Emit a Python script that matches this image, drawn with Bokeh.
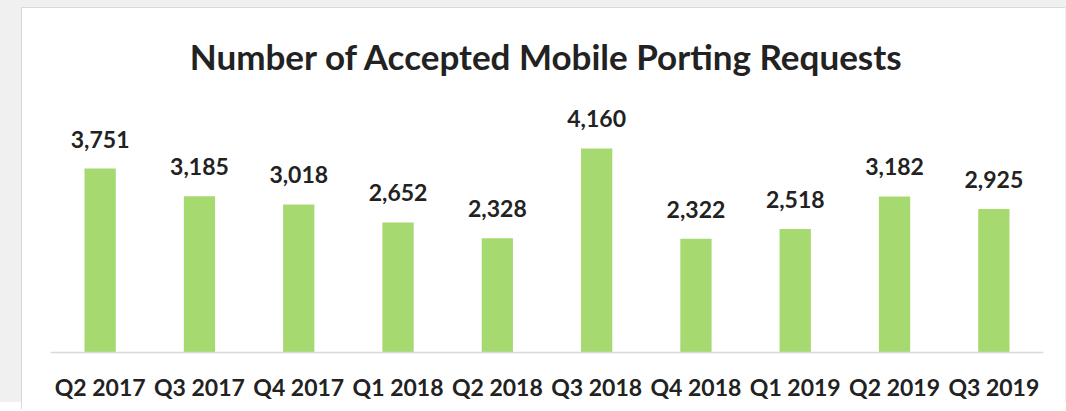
from bokeh.plotting import figure
from bokeh.models import ColumnDataSource, Range1d, Span
from bokeh.core.properties import value
from bokeh.embed import file_html
from bokeh.resources import INLINE

quarters = ["Q2 2017", "Q3 2017", "Q4 2017", "Q1 2018", "Q2 2018",
            "Q3 2018", "Q4 2018", "Q1 2019", "Q2 2019", "Q3 2019"]
requests = [3751, 3185, 3018, 2652, 2328, 4160, 2322, 2518, 3182, 2925]
labels = [f"{v:,}" for v in requests]
baseline = [0] * len(quarters)

FONT = "Lato"
TXT = "#222222"

src = ColumnDataSource(dict(q=quarters, v=requests, lab=labels, b=baseline))

p = figure(x_range=quarters, y_range=Range1d(-1182, 5138),
           width=1043, height=402, output_backend="svg", toolbar_location=None,
           title="Number of Accepted Mobile Porting Requests")
# card placed on a light grey page, with a thin border on its top/left
p.margin = (8, 0, 0, 22)
p.styles = {"box-shadow": ("-1px -1px 0 0 #d9d9d9, 0 -1px 0 0 #d9d9d9, "
                           "-22px -8px 0 0 #f0f0f0, 22px -8px 0 0 #f0f0f0")}
p.min_border_left = 28
p.min_border_right = 22
p.min_border_top = 92
p.min_border_bottom = 0
p.outline_line_color = None
p.background_fill_color = "white"
p.border_fill_color = "white"

p.title.align = "center"
p.title.text_font = FONT
p.title.text_font_size = "35px"
p.title.text_font_style = "bold"
p.title.text_color = TXT
p.title.offset = 0
p.title.standoff = 48

p.vbar(x="q", top="v", width=0.315, source=src, fill_color="#a7d971", line_color=None)
p.text(x="q", y="v", text="lab", source=src, text_align="center", text_baseline="bottom",
       y_offset=-21, text_font=value(FONT), text_font_size="23px", text_font_style="bold",
       text_color=TXT)
# category labels under the baseline
p.text(x="q", y="b", text="q", source=src, text_align="center", text_baseline="middle",
       y_offset=34, text_font=value(FONT), text_font_size="23px", text_font_style="bold",
       text_color=TXT)
p.add_layout(Span(location=0, dimension="width", line_color="#d9d9d9", line_width=1.5))

p.xaxis.visible = False
p.yaxis.visible = False
p.xgrid.visible = False
p.ygrid.visible = False

open("out.html", "w").write(file_html(p, INLINE))
